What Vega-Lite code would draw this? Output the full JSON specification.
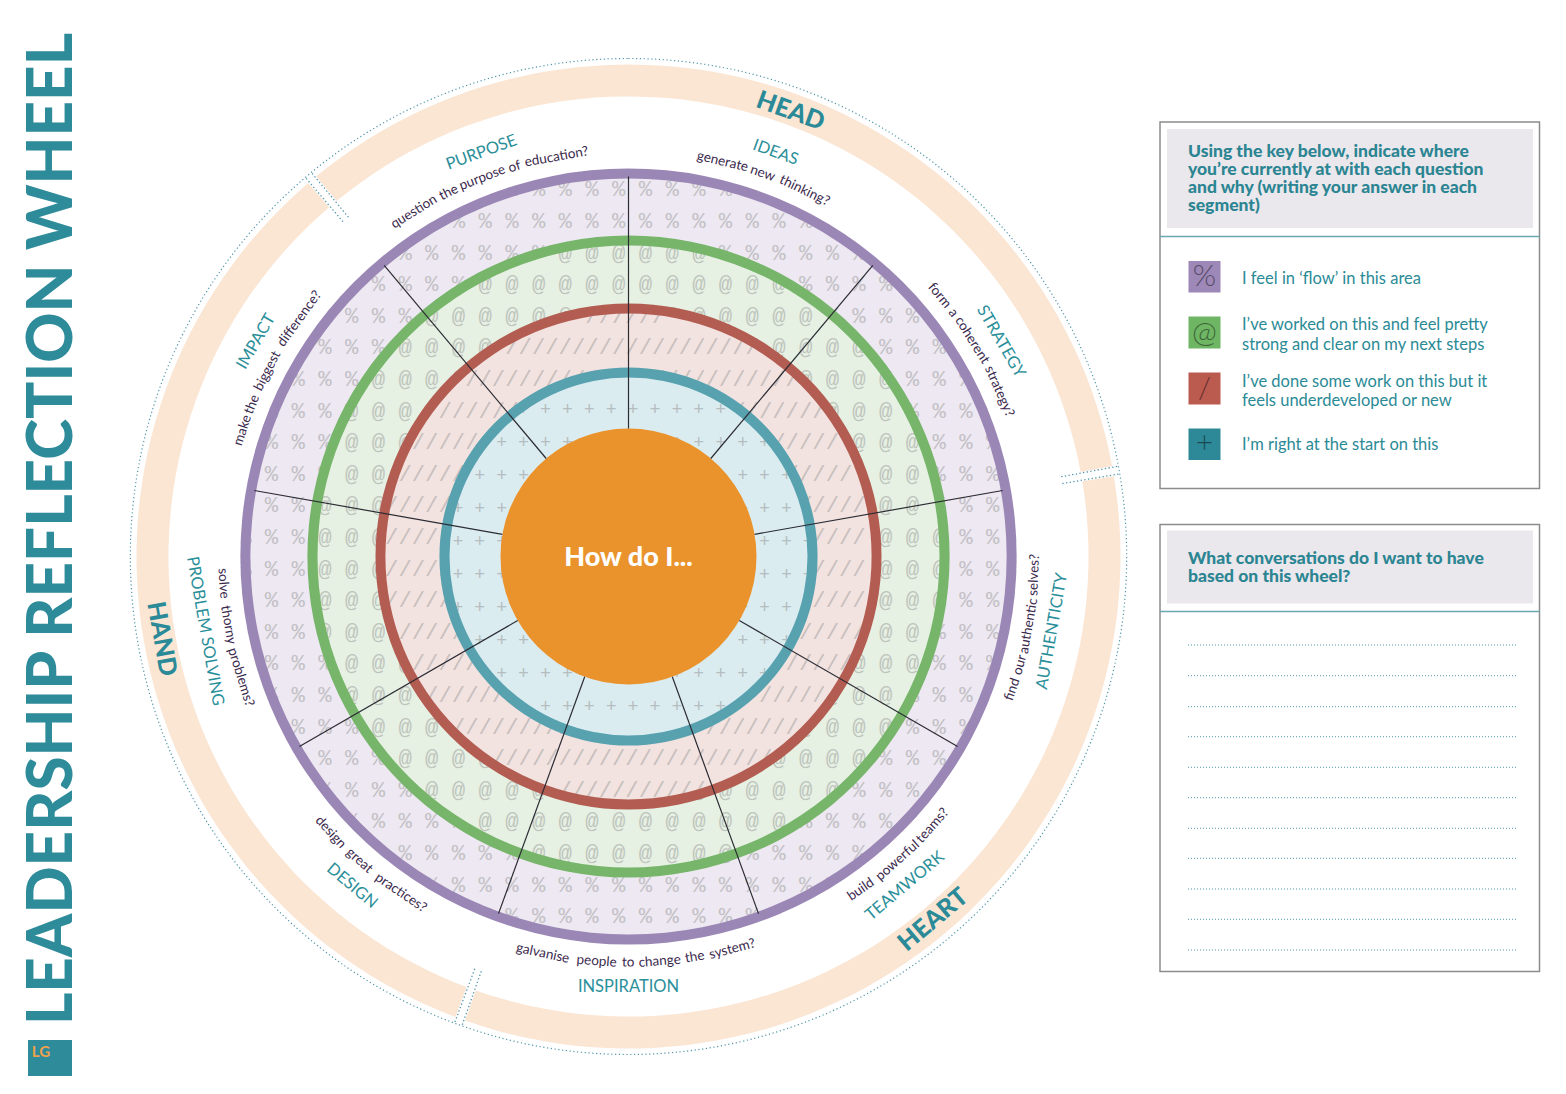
{
  "$schema": "https://vega.github.io/schema/vega-lite/v6.json",
  "width": 1566,
  "height": 1094,
  "padding": 0,
  "autosize": {"type": "none"},
  "background": "white",
  "config": {"view": {"stroke": null}, "font": "Lato"},
  "layer": [
    {
      "data": {"values": [{"a0": 0, "a1": 360, "r0": 0, "r1": 383}]},
      "mark": {"type": "arc", "fill": "#ede8f1"},
      "encoding": {
        "x": {"datum": 628.5, "type": "quantitative", "scale": {"domain": [0, 1566], "range": [0, 1566], "nice": false, "zero": false}, "axis": null},
        "y": {"datum": 556.5, "type": "quantitative", "scale": {"domain": [0, 1094], "range": [0, 1094], "nice": false, "zero": false}, "axis": null},
        "theta": {"field": "a0", "type": "quantitative", "scale": {"domain": [0, 360], "range": [0, 6.283185307179586], "nice": false, "zero": false}, "stack": null},
        "theta2": {"field": "a1"},
        "radius": {"field": "r1", "type": "quantitative", "scale": {"type": "linear", "domain": [0, 1000], "range": [0, 1000], "nice": false, "zero": false}},
        "radius2": {"field": "r0"}
      }
    },
    {
      "data": {"values": [{"y": 189.4}, {"y": 221.0}, {"y": 252.6}, {"y": 284.2}, {"y": 315.8}, {"y": 347.4}, {"y": 379.0}, {"y": 410.6}, {"y": 442.2}, {"y": 473.8}, {"y": 505.4}, {"y": 537.0}, {"y": 568.6}, {"y": 600.2}, {"y": 631.8}, {"y": 663.4}, {"y": 695.0}, {"y": 726.6}, {"y": 758.2}, {"y": 789.8}, {"y": 821.4}, {"y": 853.0}, {"y": 884.6}, {"y": 916.2}]},
      "mark": {"type": "text", "font": "Liberation Mono", "fontSize": 22.25, "color": "#909090", "opacity": 0.45, "align": "center", "baseline": "middle", "text": "% % % % % % % % % % % % % % % % % % % % % % % % % % % % % %"},
      "encoding": {
        "x": {"datum": 632.05, "type": "quantitative", "scale": {"domain": [0, 1566], "range": [0, 1566], "nice": false, "zero": false}, "axis": null},
        "y": {"field": "y", "type": "quantitative", "scale": {"domain": [0, 1094], "range": [0, 1094], "nice": false, "zero": false}, "axis": null}
      }
    },
    {
      "data": {"values": [{"a0": 0, "a1": 360, "r0": 388, "r1": 560}]},
      "mark": {"type": "arc", "fill": "#ffffff"},
      "encoding": {
        "x": {"datum": 628.5, "type": "quantitative", "scale": {"domain": [0, 1566], "range": [0, 1566], "nice": false, "zero": false}, "axis": null},
        "y": {"datum": 556.5, "type": "quantitative", "scale": {"domain": [0, 1094], "range": [0, 1094], "nice": false, "zero": false}, "axis": null},
        "theta": {"field": "a0", "type": "quantitative", "scale": {"domain": [0, 360], "range": [0, 6.283185307179586], "nice": false, "zero": false}, "stack": null},
        "theta2": {"field": "a1"},
        "radius": {"field": "r1", "type": "quantitative", "scale": {"type": "linear", "domain": [0, 1000], "range": [0, 1000], "nice": false, "zero": false}},
        "radius2": {"field": "r0"}
      }
    },
    {
      "data": {"values": [{"a0": 0, "a1": 360, "r0": 0, "r1": 316}]},
      "mark": {"type": "arc", "fill": "#e6f0e3"},
      "encoding": {
        "x": {"datum": 628.5, "type": "quantitative", "scale": {"domain": [0, 1566], "range": [0, 1566], "nice": false, "zero": false}, "axis": null},
        "y": {"datum": 556.5, "type": "quantitative", "scale": {"domain": [0, 1094], "range": [0, 1094], "nice": false, "zero": false}, "axis": null},
        "theta": {"field": "a0", "type": "quantitative", "scale": {"domain": [0, 360], "range": [0, 6.283185307179586], "nice": false, "zero": false}, "stack": null},
        "theta2": {"field": "a1"},
        "radius": {"field": "r1", "type": "quantitative", "scale": {"type": "linear", "domain": [0, 1000], "range": [0, 1000], "nice": false, "zero": false}},
        "radius2": {"field": "r0"}
      }
    },
    {
      "data": {"values": [
        {"y": 252.6, "x": 632.05, "t": "@ @ @ @ @ @"},
        {"y": 284.2, "x": 632.05, "t": "@ @ @ @ @ @ @ @ @ @ @ @"},
        {"y": 315.8, "x": 618.7, "t": "@ @ @ @ @ @ @ @ @ @ @ @ @ @ @"},
        {"y": 347.4, "x": 632.05, "t": "@ @ @ @ @ @ @ @ @ @ @ @ @ @ @ @ @ @"},
        {"y": 379.0, "x": 632.05, "t": "@ @ @ @ @ @ @ @ @ @ @ @ @ @ @ @ @ @ @ @"},
        {"y": 410.6, "x": 618.7, "t": "@ @ @ @ @ @ @ @ @ @ @ @ @ @ @ @ @ @ @ @ @"},
        {"y": 442.2, "x": 632.05, "t": "@ @ @ @ @ @ @ @ @ @ @ @ @ @ @ @ @ @ @ @ @ @"},
        {"y": 473.8, "x": 632.05, "t": "@ @ @ @ @ @ @ @ @ @ @ @ @ @ @ @ @ @ @ @ @ @"},
        {"y": 505.4, "x": 618.7, "t": "@ @ @ @ @ @ @ @ @ @ @ @ @ @ @ @ @ @ @ @ @ @ @"},
        {"y": 537.0, "x": 632.05, "t": "@ @ @ @ @ @ @ @ @ @ @ @ @ @ @ @ @ @ @ @ @ @ @ @"},
        {"y": 568.6, "x": 632.05, "t": "@ @ @ @ @ @ @ @ @ @ @ @ @ @ @ @ @ @ @ @ @ @ @ @"},
        {"y": 600.2, "x": 632.05, "t": "@ @ @ @ @ @ @ @ @ @ @ @ @ @ @ @ @ @ @ @ @ @ @ @"},
        {"y": 631.8, "x": 618.7, "t": "@ @ @ @ @ @ @ @ @ @ @ @ @ @ @ @ @ @ @ @ @ @ @"},
        {"y": 663.4, "x": 632.05, "t": "@ @ @ @ @ @ @ @ @ @ @ @ @ @ @ @ @ @ @ @ @ @"},
        {"y": 695.0, "x": 618.7, "t": "@ @ @ @ @ @ @ @ @ @ @ @ @ @ @ @ @ @ @ @ @"},
        {"y": 726.6, "x": 632.05, "t": "@ @ @ @ @ @ @ @ @ @ @ @ @ @ @ @ @ @ @ @"},
        {"y": 758.2, "x": 632.05, "t": "@ @ @ @ @ @ @ @ @ @ @ @ @ @ @ @ @ @"},
        {"y": 789.8, "x": 632.05, "t": "@ @ @ @ @ @ @ @ @ @ @ @ @ @ @ @"},
        {"y": 821.4, "x": 632.05, "t": "@ @ @ @ @ @ @ @ @ @ @ @"},
        {"y": 853.0, "x": 632.05, "t": "@ @ @ @ @ @ @ @"}
      ]},
      "mark": {"type": "text", "font": "Liberation Mono", "fontSize": 22.25, "color": "#909090", "opacity": 0.45, "align": "center", "baseline": "middle"},
      "encoding": {
        "x": {"field": "x", "type": "quantitative", "scale": {"domain": [0, 1566], "range": [0, 1566], "nice": false, "zero": false}, "axis": null},
        "y": {"field": "y", "type": "quantitative", "scale": {"domain": [0, 1094], "range": [0, 1094], "nice": false, "zero": false}, "axis": null},
        "text": {"field": "t", "type": "nominal"}
      }
    },
    {
      "data": {"values": [{"a0": 0, "a1": 360, "r0": 0, "r1": 248}]},
      "mark": {"type": "arc", "fill": "#f2e3e0"},
      "encoding": {
        "x": {"datum": 628.5, "type": "quantitative", "scale": {"domain": [0, 1566], "range": [0, 1566], "nice": false, "zero": false}, "axis": null},
        "y": {"datum": 556.5, "type": "quantitative", "scale": {"domain": [0, 1094], "range": [0, 1094], "nice": false, "zero": false}, "axis": null},
        "theta": {"field": "a0", "type": "quantitative", "scale": {"domain": [0, 360], "range": [0, 6.283185307179586], "nice": false, "zero": false}, "stack": null},
        "theta2": {"field": "a1"},
        "radius": {"field": "r1", "type": "quantitative", "scale": {"type": "linear", "domain": [0, 1000], "range": [0, 1000], "nice": false, "zero": false}},
        "radius2": {"field": "r0"}
      }
    },
    {
      "data": {"values": [
        {"y": 315.8, "x": 625.375, "t": "//////"},
        {"y": 347.4, "x": 632.05, "t": "///////////////////"},
        {"y": 379.0, "x": 632.05, "t": "/////////////////////////"},
        {"y": 410.6, "x": 632.05, "t": "/////////////////////////////"},
        {"y": 442.2, "x": 625.375, "t": "////////////////////////////////"},
        {"y": 473.8, "x": 625.375, "t": "//////////////////////////////////"},
        {"y": 505.4, "x": 625.375, "t": "////////////////////////////////////"},
        {"y": 537.0, "x": 625.375, "t": "////////////////////////////////////"},
        {"y": 568.6, "x": 625.375, "t": "////////////////////////////////////"},
        {"y": 600.2, "x": 625.375, "t": "////////////////////////////////////"},
        {"y": 631.8, "x": 632.05, "t": "///////////////////////////////////"},
        {"y": 663.4, "x": 632.05, "t": "/////////////////////////////////"},
        {"y": 695.0, "x": 625.375, "t": "//////////////////////////////"},
        {"y": 726.6, "x": 625.375, "t": "//////////////////////////"},
        {"y": 758.2, "x": 632.05, "t": "/////////////////////"},
        {"y": 789.8, "x": 632.05, "t": "///////////"}
      ]},
      "mark": {"type": "text", "font": "Liberation Mono", "fontSize": 22.25, "color": "#909090", "opacity": 0.42, "align": "center", "baseline": "middle"},
      "encoding": {
        "x": {"field": "x", "type": "quantitative", "scale": {"domain": [0, 1566], "range": [0, 1566], "nice": false, "zero": false}, "axis": null},
        "y": {"field": "y", "type": "quantitative", "scale": {"domain": [0, 1094], "range": [0, 1094], "nice": false, "zero": false}, "axis": null},
        "text": {"field": "t", "type": "nominal"}
      }
    },
    {
      "data": {"values": [{"a0": 0, "a1": 360, "r0": 0, "r1": 184}]},
      "mark": {"type": "arc", "fill": "#dbecf0"},
      "encoding": {
        "x": {"datum": 628.5, "type": "quantitative", "scale": {"domain": [0, 1566], "range": [0, 1566], "nice": false, "zero": false}, "axis": null},
        "y": {"datum": 556.5, "type": "quantitative", "scale": {"domain": [0, 1094], "range": [0, 1094], "nice": false, "zero": false}, "axis": null},
        "theta": {"field": "a0", "type": "quantitative", "scale": {"domain": [0, 360], "range": [0, 6.283185307179586], "nice": false, "zero": false}, "stack": null},
        "theta2": {"field": "a1"},
        "radius": {"field": "r1", "type": "quantitative", "scale": {"type": "linear", "domain": [0, 1000], "range": [0, 1000], "nice": false, "zero": false}},
        "radius2": {"field": "r0"}
      }
    },
    {
      "data": {"values": [
        {"y": 410, "x": 622.15, "t": "+ + + + + + + + + +"},
        {"y": 443, "x": 633.1, "t": "+ + + + + + + + + + + + +"},
        {"y": 476, "x": 633.1, "t": "+ + + + + + + + + + + + + + +"},
        {"y": 509, "x": 622.15, "t": "+ + + + + + + + + + + + + + + +"},
        {"y": 542, "x": 633.1, "t": "+ + + + + + + + + + + + + + + + +"},
        {"y": 575, "x": 633.1, "t": "+ + + + + + + + + + + + + + + + +"},
        {"y": 608, "x": 622.15, "t": "+ + + + + + + + + + + + + + + +"},
        {"y": 641, "x": 633.1, "t": "+ + + + + + + + + + + + + + +"},
        {"y": 674, "x": 633.1, "t": "+ + + + + + + + + + + + +"},
        {"y": 707, "x": 633.1, "t": "+ + + + + + + + +"}
      ]},
      "mark": {"type": "text", "font": "Liberation Mono", "fontSize": 18.25, "color": "#909090", "opacity": 0.5, "align": "center", "baseline": "middle"},
      "encoding": {
        "x": {"field": "x", "type": "quantitative", "scale": {"domain": [0, 1566], "range": [0, 1566], "nice": false, "zero": false}, "axis": null},
        "y": {"field": "y", "type": "quantitative", "scale": {"domain": [0, 1094], "range": [0, 1094], "nice": false, "zero": false}, "axis": null},
        "text": {"field": "t", "type": "nominal"}
      }
    },
    {
      "data": {"values": [{"a0": 0, "a1": 360, "r0": 0, "r1": 128}]},
      "mark": {"type": "arc", "fill": "#ea932d"},
      "encoding": {
        "x": {"datum": 628.5, "type": "quantitative", "scale": {"domain": [0, 1566], "range": [0, 1566], "nice": false, "zero": false}, "axis": null},
        "y": {"datum": 556.5, "type": "quantitative", "scale": {"domain": [0, 1094], "range": [0, 1094], "nice": false, "zero": false}, "axis": null},
        "theta": {"field": "a0", "type": "quantitative", "scale": {"domain": [0, 360], "range": [0, 6.283185307179586], "nice": false, "zero": false}, "stack": null},
        "theta2": {"field": "a1"},
        "radius": {"field": "r1", "type": "quantitative", "scale": {"type": "linear", "domain": [0, 1000], "range": [0, 1000], "nice": false, "zero": false}},
        "radius2": {"field": "r0"}
      }
    },
    {
      "data": {"values": [
        {"ring": "purple", "a0": 0, "a1": 360, "r0": 378, "r1": 388},
        {"ring": "green", "a0": 0, "a1": 360, "r0": 311, "r1": 321},
        {"ring": "red", "a0": 0, "a1": 360, "r0": 243, "r1": 253},
        {"ring": "teal", "a0": 0, "a1": 360, "r0": 179, "r1": 189}
      ]},
      "mark": {"type": "arc"},
      "encoding": {
        "x": {"datum": 628.5, "type": "quantitative", "scale": {"domain": [0, 1566], "range": [0, 1566], "nice": false, "zero": false}, "axis": null},
        "y": {"datum": 556.5, "type": "quantitative", "scale": {"domain": [0, 1094], "range": [0, 1094], "nice": false, "zero": false}, "axis": null},
        "theta": {"field": "a0", "type": "quantitative", "scale": {"domain": [0, 360], "range": [0, 6.283185307179586], "nice": false, "zero": false}, "stack": null},
        "theta2": {"field": "a1"},
        "radius": {"field": "r1", "type": "quantitative", "scale": {"type": "linear", "domain": [0, 1000], "range": [0, 1000], "nice": false, "zero": false}},
        "radius2": {"field": "r0"},
        "color": {"field": "ring", "type": "nominal", "scale": {"domain": ["purple", "green", "red", "teal"], "range": ["#9b87b5", "#76b56a", "#b35d52", "#58a2b0"]}, "legend": null}
      }
    },
    {
      "data": {"values": [
        {"x": 628.5, "y": 428.5, "x2": 628.5, "y2": 176.5},
        {"x": 710.8, "y": 458.5, "x2": 872.8, "y2": 265.4},
        {"x": 754.6, "y": 534.3, "x2": 1002.7, "y2": 490.5},
        {"x": 739.3, "y": 620.5, "x2": 957.6, "y2": 746.5},
        {"x": 672.3, "y": 676.8, "x2": 758.5, "y2": 913.6},
        {"x": 584.7, "y": 676.8, "x2": 498.5, "y2": 913.6},
        {"x": 517.7, "y": 620.5, "x2": 299.4, "y2": 746.5},
        {"x": 502.4, "y": 534.3, "x2": 254.3, "y2": 490.5},
        {"x": 546.2, "y": 458.5, "x2": 384.2, "y2": 265.4}
      ]},
      "mark": {"type": "rule", "color": "#2b2b33", "strokeWidth": 1.2},
      "encoding": {
        "x": {"field": "x", "type": "quantitative", "scale": {"domain": [0, 1566], "range": [0, 1566], "nice": false, "zero": false}, "axis": null},
        "y": {"field": "y", "type": "quantitative", "scale": {"domain": [0, 1094], "range": [0, 1094], "nice": false, "zero": false}, "axis": null},
        "x2": {"field": "x2"},
        "y2": {"field": "y2"}
      }
    },
    {
      "data": {"values": [{"t": "How do I...", "x": 628.5, "y": 558}]},
      "mark": {"type": "text", "font": "Lato", "fontSize": 27, "fontWeight": 900, "color": "#ffffff", "align": "center", "baseline": "middle"},
      "encoding": {
        "x": {"field": "x", "type": "quantitative", "scale": {"domain": [0, 1566], "range": [0, 1566], "nice": false, "zero": false}, "axis": null},
        "y": {"field": "y", "type": "quantitative", "scale": {"domain": [0, 1094], "range": [0, 1094], "nice": false, "zero": false}, "axis": null},
        "text": {"field": "t", "type": "nominal"}
      }
    },
    {
      "data": {"values": [{"a0": 0, "a1": 360, "r0": 0, "r1": 498}]},
      "mark": {"type": "arc", "fill": "transparent", "stroke": "#4e96ab", "strokeWidth": 1.2, "strokeDash": [1.2, 2.6]},
      "encoding": {
        "x": {"datum": 628.5, "type": "quantitative", "scale": {"domain": [0, 1566], "range": [0, 1566], "nice": false, "zero": false}, "axis": null},
        "y": {"datum": 556.5, "type": "quantitative", "scale": {"domain": [0, 1094], "range": [0, 1094], "nice": false, "zero": false}, "axis": null},
        "theta": {"field": "a0", "type": "quantitative", "scale": {"domain": [0, 360], "range": [0, 6.283185307179586], "nice": false, "zero": false}, "stack": null},
        "theta2": {"field": "a1"},
        "radius": {"field": "r1", "type": "quantitative", "scale": {"type": "linear", "domain": [0, 1000], "range": [0, 1000], "nice": false, "zero": false}},
        "radius2": {"field": "r0"}
      }
    },
    {
      "data": {"values": [
        {"band": "HEAD", "a0": 320.6, "a1": 439.4, "r0": 460, "r1": 492},
        {"band": "HEART", "a0": 80.6, "a1": 199.4, "r0": 460, "r1": 492},
        {"band": "HAND", "a0": 200.6, "a1": 319.4, "r0": 460, "r1": 492}
      ]},
      "mark": {"type": "arc", "fill": "#fbe6d4"},
      "encoding": {
        "x": {"datum": 628.5, "type": "quantitative", "scale": {"domain": [0, 1566], "range": [0, 1566], "nice": false, "zero": false}, "axis": null},
        "y": {"datum": 556.5, "type": "quantitative", "scale": {"domain": [0, 1094], "range": [0, 1094], "nice": false, "zero": false}, "axis": null},
        "theta": {"field": "a0", "type": "quantitative", "scale": {"domain": [0, 360], "range": [0, 6.283185307179586], "nice": false, "zero": false}, "stack": null},
        "theta2": {"field": "a1"},
        "radius": {"field": "r1", "type": "quantitative", "scale": {"type": "linear", "domain": [0, 1000], "range": [0, 1000], "nice": false, "zero": false}},
        "radius2": {"field": "r0"}
      }
    },
    {
      "data": {"values": [
        {"x": 343.0, "y": 221.7, "x2": 305.4, "y2": 177.5},
        {"x": 348.4, "y": 217.2, "x2": 311.4, "y2": 172.5},
        {"x": 1061.2, "y": 476.7, "x2": 1118.2, "y2": 466.2},
        {"x": 1062.4, "y": 483.5, "x2": 1119.6, "y2": 473.9},
        {"x": 481.3, "y": 971.2, "x2": 461.9, "y2": 1025.8},
        {"x": 474.8, "y": 968.8, "x2": 454.5, "y2": 1023.1}
      ]},
      "mark": {"type": "rule", "color": "#4e96ab", "strokeWidth": 1.3, "strokeDash": [1.3, 2.4]},
      "encoding": {
        "x": {"field": "x", "type": "quantitative", "scale": {"domain": [0, 1566], "range": [0, 1566], "nice": false, "zero": false}, "axis": null},
        "y": {"field": "y", "type": "quantitative", "scale": {"domain": [0, 1094], "range": [0, 1094], "nice": false, "zero": false}, "axis": null},
        "x2": {"field": "x2"},
        "y2": {"field": "y2"}
      }
    },
    {
      "data": {"values": [
        {"t": "IDEAS", "theta": 20, "side": "t"},
        {"t": "STRATEGY", "theta": 60, "side": "t"},
        {"t": "AUTHENTICITY", "theta": 100, "side": "b"},
        {"t": "TEAMWORK", "theta": 140, "side": "b"},
        {"t": "INSPIRATION", "theta": 180, "side": "b"},
        {"t": "DESIGN", "theta": 220, "side": "b"},
        {"t": "PROBLEM SOLVING", "theta": 260, "side": "b"},
        {"t": "IMPACT", "theta": 300, "side": "t"},
        {"t": "PURPOSE", "theta": 340, "side": "t"}
      ]},
      "transform": [{"calculate": "datum.side == 'b' ? datum.theta - 180 : datum.theta", "as": "rot"}],
      "mark": {"type": "text", "font": "Lato", "fontSize": 16.5, "color": "#2b8f9a", "align": "center", "baseline": "middle"},
      "encoding": {
        "x": {"datum": 628.5, "type": "quantitative", "scale": {"domain": [0, 1566], "range": [0, 1566], "nice": false, "zero": false}, "axis": null},
        "y": {"datum": 556.5, "type": "quantitative", "scale": {"domain": [0, 1094], "range": [0, 1094], "nice": false, "zero": false}, "axis": null},
        "theta": {"field": "theta", "type": "quantitative", "scale": {"domain": [0, 360], "range": [0, 6.283185307179586], "nice": false, "zero": false}, "stack": null},
        "radius": {"datum": 430, "type": "quantitative", "scale": {"type": "linear", "domain": [0, 1000], "range": [0, 1000], "nice": false, "zero": false}},
        "angle": {"field": "rot", "type": "quantitative", "scale": null},
        "text": {"field": "t", "type": "nominal"}
      }
    },
    {
      "data": {"values": [
        {"t": "question", "theta": 328.1, "side": "t"},
        {"t": "the", "theta": 333.7, "side": "t"},
        {"t": "purpose", "theta": 338.9, "side": "t"},
        {"t": "of", "theta": 343.7, "side": "t"},
        {"t": "education?", "theta": 349.8, "side": "t"},
        {"t": "generate", "theta": 13.4, "side": "t"},
        {"t": "new", "theta": 19.3, "side": "t"},
        {"t": "thinking?", "theta": 25.7, "side": "t"},
        {"t": "form", "theta": 50.0, "side": "t"},
        {"t": "a", "theta": 53.1, "side": "t"},
        {"t": "coherent", "theta": 57.8, "side": "t"},
        {"t": "strategy?", "theta": 66.0, "side": "t"},
        {"t": "find", "theta": 109.1, "side": "b"},
        {"t": "our", "theta": 105.5, "side": "b"},
        {"t": "authentic", "theta": 99.85, "side": "b"},
        {"t": "selves?", "theta": 92.6, "side": "b"},
        {"t": "build", "theta": 145.1, "side": "b"},
        {"t": "powerful", "theta": 138.5, "side": "b"},
        {"t": "teams?", "theta": 131.5, "side": "b"},
        {"t": "galvanise", "theta": 192.2, "side": "b"},
        {"t": "people", "theta": 184.5, "side": "b"},
        {"t": "to", "theta": 180.05, "side": "b"},
        {"t": "change", "theta": 175.6, "side": "b"},
        {"t": "the", "theta": 170.6, "side": "b"},
        {"t": "system?", "theta": 165.2, "side": "b"},
        {"t": "design", "theta": 227.2, "side": "b"},
        {"t": "great", "theta": 221.5, "side": "b"},
        {"t": "practices?", "theta": 214.1, "side": "b"},
        {"t": "solve", "theta": 266.2, "side": "b"},
        {"t": "thorny", "theta": 260.3, "side": "b"},
        {"t": "problems?", "theta": 252.7, "side": "b"},
        {"t": "make", "theta": 288.1, "side": "t"},
        {"t": "the", "theta": 292.0, "side": "t"},
        {"t": "biggest", "theta": 297.2, "side": "t"},
        {"t": "difference?", "theta": 305.85, "side": "t"}
      ]},
      "transform": [{"calculate": "datum.side == 'b' ? datum.theta - 180 : datum.theta", "as": "rot"}],
      "mark": {"type": "text", "font": "Lato", "fontSize": 13.5, "color": "#3b2a4d", "align": "center", "baseline": "middle"},
      "encoding": {
        "x": {"datum": 628.5, "type": "quantitative", "scale": {"domain": [0, 1566], "range": [0, 1566], "nice": false, "zero": false}, "axis": null},
        "y": {"datum": 556.5, "type": "quantitative", "scale": {"domain": [0, 1094], "range": [0, 1094], "nice": false, "zero": false}, "axis": null},
        "theta": {"field": "theta", "type": "quantitative", "scale": {"domain": [0, 360], "range": [0, 6.283185307179586], "nice": false, "zero": false}, "stack": null},
        "radius": {"datum": 406, "type": "quantitative", "scale": {"type": "linear", "domain": [0, 1000], "range": [0, 1000], "nice": false, "zero": false}},
        "angle": {"field": "rot", "type": "quantitative", "scale": null},
        "text": {"field": "t", "type": "nominal"}
      }
    },
    {
      "data": {"values": [
        {"t": "HEAD", "theta": 20, "side": "t"},
        {"t": "HEART", "theta": 140, "side": "b"},
        {"t": "HAND", "theta": 260, "side": "b"}
      ]},
      "transform": [{"calculate": "datum.side == 'b' ? datum.theta - 180 : datum.theta", "as": "rot"}],
      "mark": {"type": "text", "font": "Lato", "fontSize": 25, "fontWeight": 900, "color": "#2b8a98", "align": "center", "baseline": "middle"},
      "encoding": {
        "x": {"datum": 628.5, "type": "quantitative", "scale": {"domain": [0, 1566], "range": [0, 1566], "nice": false, "zero": false}, "axis": null},
        "y": {"datum": 556.5, "type": "quantitative", "scale": {"domain": [0, 1094], "range": [0, 1094], "nice": false, "zero": false}, "axis": null},
        "theta": {"field": "theta", "type": "quantitative", "scale": {"domain": [0, 360], "range": [0, 6.283185307179586], "nice": false, "zero": false}, "stack": null},
        "radius": {"datum": 474, "type": "quantitative", "scale": {"type": "linear", "domain": [0, 1000], "range": [0, 1000], "nice": false, "zero": false}},
        "angle": {"field": "rot", "type": "quantitative", "scale": null},
        "text": {"field": "t", "type": "nominal"}
      }
    },
    {
      "data": {"values": [{"t": "LEADERSHIP REFLECTION WHEEL", "x": 72, "y": 529}]},
      "mark": {"type": "text", "font": "Lato", "fontSize": 62, "fontWeight": 900, "color": "#2e8b9a", "align": "center", "baseline": "alphabetic", "angle": 270},
      "encoding": {
        "x": {"field": "x", "type": "quantitative", "scale": {"domain": [0, 1566], "range": [0, 1566], "nice": false, "zero": false}, "axis": null},
        "y": {"field": "y", "type": "quantitative", "scale": {"domain": [0, 1094], "range": [0, 1094], "nice": false, "zero": false}, "axis": null},
        "text": {"field": "t", "type": "nominal"}
      }
    },
    {
      "data": {"values": [{"x": 28, "x2": 72, "y": 1040, "y2": 1076}]},
      "mark": {"type": "rect", "color": "#2e8b9a"},
      "encoding": {
        "x": {"field": "x", "type": "quantitative", "scale": {"domain": [0, 1566], "range": [0, 1566], "nice": false, "zero": false}, "axis": null},
        "y": {"field": "y", "type": "quantitative", "scale": {"domain": [0, 1094], "range": [0, 1094], "nice": false, "zero": false}, "axis": null},
        "x2": {"field": "x2"},
        "y2": {"field": "y2"}
      }
    },
    {
      "data": {"values": [{"t": "LG", "x": 41, "y": 1052}]},
      "mark": {"type": "text", "font": "Lato", "fontSize": 15, "fontWeight": "bold", "color": "#f0a24a", "align": "center", "baseline": "middle"},
      "encoding": {
        "x": {"field": "x", "type": "quantitative", "scale": {"domain": [0, 1566], "range": [0, 1566], "nice": false, "zero": false}, "axis": null},
        "y": {"field": "y", "type": "quantitative", "scale": {"domain": [0, 1094], "range": [0, 1094], "nice": false, "zero": false}, "axis": null},
        "text": {"field": "t", "type": "nominal"}
      }
    },
    {
      "data": {"values": [
        {"x": 1167, "x2": 1533, "y": 129, "y2": 228},
        {"x": 1167, "x2": 1533, "y": 530.5, "y2": 603.5}
      ]},
      "mark": {"type": "rect", "color": "#ebe8ed"},
      "encoding": {
        "x": {"field": "x", "type": "quantitative", "scale": {"domain": [0, 1566], "range": [0, 1566], "nice": false, "zero": false}, "axis": null},
        "y": {"field": "y", "type": "quantitative", "scale": {"domain": [0, 1094], "range": [0, 1094], "nice": false, "zero": false}, "axis": null},
        "x2": {"field": "x2"},
        "y2": {"field": "y2"}
      }
    },
    {
      "data": {"values": [
        {"x": 1160, "x2": 1539.5, "y": 122, "y2": 488.5},
        {"x": 1160, "x2": 1539.5, "y": 524.5, "y2": 971.5}
      ]},
      "mark": {"type": "rect", "fill": "transparent", "stroke": "#8c8c8c", "strokeWidth": 1.5},
      "encoding": {
        "x": {"field": "x", "type": "quantitative", "scale": {"domain": [0, 1566], "range": [0, 1566], "nice": false, "zero": false}, "axis": null},
        "y": {"field": "y", "type": "quantitative", "scale": {"domain": [0, 1094], "range": [0, 1094], "nice": false, "zero": false}, "axis": null},
        "x2": {"field": "x2"},
        "y2": {"field": "y2"}
      }
    },
    {
      "data": {"values": [
        {"x": 1160, "x2": 1539.5, "y": 236.5},
        {"x": 1160, "x2": 1539.5, "y": 611.5}
      ]},
      "mark": {"type": "rule", "color": "#6aa9b0", "strokeWidth": 1.5},
      "encoding": {
        "x": {"field": "x", "type": "quantitative", "scale": {"domain": [0, 1566], "range": [0, 1566], "nice": false, "zero": false}, "axis": null},
        "y": {"field": "y", "type": "quantitative", "scale": {"domain": [0, 1094], "range": [0, 1094], "nice": false, "zero": false}, "axis": null},
        "x2": {"field": "x2"}
      }
    },
    {
      "data": {"values": [{"y": 645}, {"y": 675.7}, {"y": 706.7}, {"y": 736.7}, {"y": 767.3}, {"y": 797.7}, {"y": 828.3}, {"y": 858.3}, {"y": 889}, {"y": 919.3}, {"y": 950}]},
      "mark": {"type": "rule", "color": "#4e96ab", "strokeWidth": 1, "strokeDash": [1, 2]},
      "encoding": {
        "x": {"datum": 1188, "type": "quantitative", "scale": {"domain": [0, 1566], "range": [0, 1566], "nice": false, "zero": false}, "axis": null},
        "x2": {"datum": 1516},
        "y": {"field": "y", "type": "quantitative", "scale": {"domain": [0, 1094], "range": [0, 1094], "nice": false, "zero": false}, "axis": null}
      }
    },
    {
      "data": {"values": [
        {"k": "flow", "y": 261, "y2": 292.5},
        {"k": "worked", "y": 316.5, "y2": 348.5},
        {"k": "some", "y": 372.5, "y2": 404.5},
        {"k": "start", "y": 428.5, "y2": 460}
      ]},
      "mark": {"type": "rect"},
      "encoding": {
        "x": {"datum": 1188.5, "type": "quantitative", "scale": {"domain": [0, 1566], "range": [0, 1566], "nice": false, "zero": false}, "axis": null},
        "x2": {"datum": 1220.5},
        "y": {"field": "y", "type": "quantitative", "scale": {"domain": [0, 1094], "range": [0, 1094], "nice": false, "zero": false}, "axis": null},
        "y2": {"field": "y2"},
        "fill": {"field": "k", "type": "nominal", "scale": {"domain": ["flow", "worked", "some", "start"], "range": ["#9d88b8", "#6fb664", "#bb5a4f", "#2d8997"]}, "legend": null}
      }
    },
    {
      "data": {"values": [
        {"t": "%", "y": 277},
        {"t": "@", "y": 332.5},
        {"t": "/", "y": 388.5},
        {"t": "+", "y": 444}
      ]},
      "mark": {"type": "text", "font": "Lato", "fontSize": 30, "fontWeight": 300, "color": "#000000", "opacity": 0.45, "align": "center", "baseline": "middle"},
      "encoding": {
        "x": {"datum": 1204.5, "type": "quantitative", "scale": {"domain": [0, 1566], "range": [0, 1566], "nice": false, "zero": false}, "axis": null},
        "y": {"field": "y", "type": "quantitative", "scale": {"domain": [0, 1094], "range": [0, 1094], "nice": false, "zero": false}, "axis": null},
        "text": {"field": "t", "type": "nominal"}
      }
    },
    {
      "data": {"values": [
        {"y": 151.5, "t": "Using the key below, indicate where"},
        {"y": 169.5, "t": "you’re currently at with each question"},
        {"y": 187.5, "t": "and why (writing your answer in each"},
        {"y": 205.5, "t": "segment)"},
        {"y": 558.5, "t": "What conversations do I want to have"},
        {"y": 576.5, "t": "based on this wheel?"}
      ]},
      "mark": {"type": "text", "font": "Lato", "fontSize": 17.5, "fontWeight": 900, "color": "#2b8592", "align": "left", "baseline": "middle"},
      "encoding": {
        "x": {"datum": 1188, "type": "quantitative", "scale": {"domain": [0, 1566], "range": [0, 1566], "nice": false, "zero": false}, "axis": null},
        "y": {"field": "y", "type": "quantitative", "scale": {"domain": [0, 1094], "range": [0, 1094], "nice": false, "zero": false}, "axis": null},
        "text": {"field": "t", "type": "nominal"}
      }
    },
    {
      "data": {"values": [
        {"y": 278.5, "t": "I feel in ‘flow’ in this area"},
        {"y": 325, "t": "I’ve worked on this and feel pretty"},
        {"y": 344.5, "t": "strong and clear on my next steps"},
        {"y": 381.5, "t": "I’ve done some work on this but it"},
        {"y": 400.5, "t": "feels underdeveloped or new"},
        {"y": 445, "t": "I’m right at the start on this"}
      ]},
      "mark": {"type": "text", "font": "Lato", "fontSize": 16.5, "color": "#2b8a96", "align": "left", "baseline": "middle"},
      "encoding": {
        "x": {"datum": 1242, "type": "quantitative", "scale": {"domain": [0, 1566], "range": [0, 1566], "nice": false, "zero": false}, "axis": null},
        "y": {"field": "y", "type": "quantitative", "scale": {"domain": [0, 1094], "range": [0, 1094], "nice": false, "zero": false}, "axis": null},
        "text": {"field": "t", "type": "nominal"}
      }
    }
  ]
}
